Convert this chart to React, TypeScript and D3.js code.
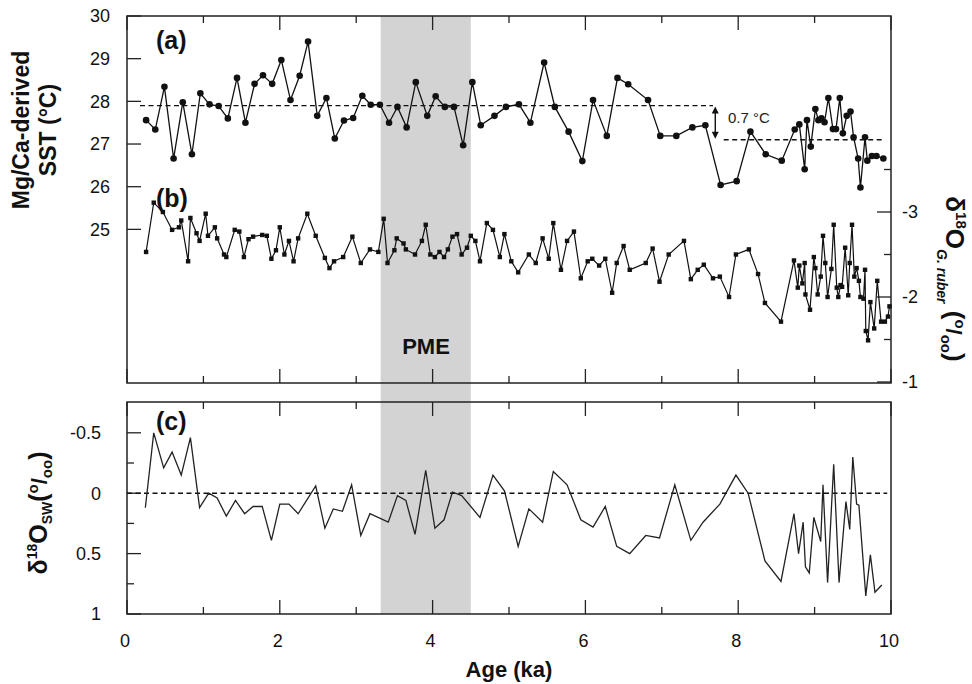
import React from "react";
import * as d3 from "d3";

// (a) Mg/Ca-derived SST
const ageA = [0.25, 0.37, 0.49, 0.61, 0.73, 0.85, 0.96, 1.08, 1.2, 1.32, 1.44, 1.55, 1.67, 1.78, 1.9, 2.02, 2.14, 2.26, 2.37, 2.49, 2.61, 2.72, 2.84, 2.96, 3.08, 3.19, 3.31, 3.43, 3.54, 3.66, 3.78, 3.93, 4.04, 4.16, 4.28, 4.4, 4.52, 4.63, 4.81, 4.96, 5.13, 5.28, 5.46, 5.6, 5.78, 5.96, 6.1, 6.28, 6.42, 6.56, 6.82, 6.98, 7.19, 7.4, 7.57, 7.77, 7.98, 8.16, 8.36, 8.57, 8.74, 8.8, 8.87, 8.9, 8.95, 9.01, 9.05, 9.09, 9.13, 9.18, 9.24, 9.28, 9.33, 9.37, 9.42, 9.47, 9.51, 9.57, 9.6, 9.66, 9.69, 9.75, 9.81, 9.9];
const sstA = [27.56, 27.34, 28.34, 26.66, 27.98, 26.76, 28.19, 27.93, 27.89, 27.6, 28.55, 27.5, 28.41, 28.61, 28.41, 28.97, 28.03, 28.6, 29.4, 27.66, 28.08, 27.13, 27.55, 27.61, 28.13, 27.92, 27.92, 27.5, 27.87, 27.39, 28.45, 27.66, 28.12, 27.87, 27.87, 26.97, 28.45, 27.44, 27.66, 27.87, 27.93, 27.5, 28.91, 27.87, 27.29, 26.6, 28.03, 27.19, 28.55, 28.4, 28.03, 27.19, 27.19, 27.39, 27.44, 26.04, 26.13, 27.29, 26.76, 26.61, 27.34, 27.46, 26.41, 27.56, 26.94, 27.82, 27.56, 27.6, 27.51, 28.08, 27.35, 27.35, 28.08, 27.25, 27.66, 27.76, 27.16, 26.66, 25.98, 27.16, 26.61, 26.72, 26.72, 26.66];

// (b) d18O G. ruber
const ageB = [0.25, 0.35, 0.47, 0.59, 0.68, 0.71, 0.8, 0.83, 0.91, 0.95, 1.03, 1.06, 1.15, 1.18, 1.27, 1.3, 1.41, 1.47, 1.53, 1.59, 1.65, 1.77, 1.83, 1.89, 1.95, 2.0, 2.06, 2.12, 2.18, 2.24, 2.36, 2.47, 2.59, 2.65, 2.71, 2.83, 2.95, 3.06, 3.18, 3.29, 3.36, 3.41, 3.5, 3.53, 3.62, 3.65, 3.77, 3.86, 3.91, 3.97, 4.03, 4.09, 4.15, 4.2, 4.26, 4.32, 4.38, 4.45, 4.5, 4.56, 4.62, 4.71, 4.79, 4.88, 4.94, 5.03, 5.12, 5.26, 5.35, 5.44, 5.52, 5.58, 5.68, 5.76, 5.85, 5.94, 6.03, 6.09, 6.18, 6.26, 6.35, 6.41, 6.5, 6.58, 6.79, 6.88, 6.97, 7.09, 7.29, 7.38, 7.47, 7.55, 7.67, 7.76, 7.88, 7.97, 8.14, 8.26, 8.35, 8.56, 8.73, 8.78, 8.8, 8.84, 8.87, 8.88, 8.94, 8.99, 9.01, 9.04, 9.08, 9.11, 9.14, 9.17, 9.22, 9.25, 9.29, 9.31, 9.34, 9.36, 9.4, 9.44, 9.46, 9.49, 9.52, 9.55, 9.58, 9.6, 9.64, 9.66, 9.67, 9.7, 9.73, 9.78, 9.82, 9.87, 9.92, 9.96, 9.98];
const d18oB = [-2.53, -3.11, -3.0, -2.79, -2.82, -2.9, -2.42, -2.93, -2.75, -2.66, -2.98, -2.72, -2.82, -2.69, -2.5, -2.47, -2.79, -2.77, -2.47, -2.68, -2.71, -2.73, -2.72, -2.45, -2.55, -2.82, -2.5, -2.66, -2.42, -2.69, -2.98, -2.72, -2.46, -2.34, -2.42, -2.47, -2.71, -2.4, -2.56, -2.53, -2.92, -2.4, -2.55, -2.69, -2.63, -2.56, -2.5, -2.66, -2.85, -2.5, -2.47, -2.53, -2.47, -2.56, -2.71, -2.74, -2.5, -2.58, -2.72, -2.66, -2.42, -2.87, -2.79, -2.47, -2.74, -2.42, -2.29, -2.5, -2.4, -2.69, -2.45, -2.87, -2.32, -2.66, -2.77, -2.22, -2.42, -2.45, -2.37, -2.45, -2.05, -2.4, -2.6, -2.32, -2.4, -2.57, -2.18, -2.5, -2.66, -2.21, -2.32, -2.38, -2.22, -2.24, -2.0, -2.5, -2.56, -2.27, -1.93, -1.71, -2.43, -2.11, -2.37, -2.16, -2.4, -2.03, -1.85, -2.47, -2.34, -2.03, -2.24, -2.72, -2.4, -2.0, -2.33, -2.85, -2.11, -2.0, -2.14, -2.12, -2.58, -2.02, -2.4, -2.85, -2.24, -2.34, -2.19, -2.0, -1.98, -2.32, -1.6, -1.49, -1.94, -1.63, -2.19, -1.71, -1.71, -1.77, -1.89];

// (c) d18O seawater
const ageC = [0.24, 0.35, 0.48, 0.59, 0.71, 0.83, 0.95, 1.07, 1.18, 1.3, 1.42, 1.54, 1.65, 1.77, 1.89, 2.0, 2.12, 2.24, 2.47, 2.59, 2.7, 2.82, 2.94, 3.06, 3.18, 3.42, 3.54, 3.65, 3.77, 3.91, 4.03, 4.15, 4.26, 4.38, 4.62, 4.79, 4.94, 5.12, 5.26, 5.44, 5.58, 5.76, 5.94, 6.1, 6.26, 6.41, 6.58, 6.79, 6.97, 7.17, 7.38, 7.54, 7.76, 7.97, 8.13, 8.35, 8.56, 8.73, 8.79, 8.85, 8.88, 8.93, 8.99, 9.08, 9.11, 9.17, 9.25, 9.32, 9.41, 9.46, 9.5, 9.55, 9.58, 9.67, 9.73, 9.79, 9.88];
const swC = [0.12, -0.5, -0.21, -0.34, -0.15, -0.46, 0.12, 0.0, 0.04, 0.19, 0.06, 0.17, 0.11, 0.11, 0.39, 0.09, 0.09, 0.17, -0.06, 0.29, 0.13, 0.15, -0.07, 0.35, 0.17, 0.24, 0.02, 0.06, 0.34, -0.19, 0.29, 0.22, -0.01, 0.02, 0.2, -0.15, -0.02, 0.44, 0.13, 0.24, -0.18, -0.07, 0.22, 0.28, 0.11, 0.44, 0.5, 0.35, 0.37, -0.07, 0.39, 0.24, 0.09, -0.15, 0.0, 0.56, 0.73, 0.17, 0.5, 0.24, 0.61, 0.66, 0.2, 0.4, -0.07, 0.74, -0.24, 0.74, 0.07, 0.3, -0.3, 0.09, 0.1, 0.85, 0.51, 0.82, 0.76];

// mean SST levels and PME band
const meanEarly = { from: 0.17, to: 7.67, value: 27.9 };
const meanLate = { from: 7.81, to: 9.88, value: 27.1 };
const pme = [3.32, 4.5];

const xMajor = [0, 2, 4, 6, 8, 10];
const xMinor = [1, 3, 5, 7, 9];
const sstTicks = [25, 26, 27, 28, 29, 30];
const rubMajor = [-3, -2, -1];
const rubMinor = [-3.5, -2.5, -1.5];
const swMajor = [-0.5, 0, 0.5, 1];
const swMinor = [-0.25, 0.25, 0.75];

const FONT = "'Liberation Sans', Arial, Helvetica, sans-serif";
const INK = "#222";

export default function App() {
  const L = 127, R = 891;
  const T0 = 16, T1 = 383, B0 = 402, B1 = 614;

  const x = d3.scaleLinear().domain([0, 10]).range([L, R]);
  const ySst = d3.scaleLinear().domain([21.4, 30]).range([T1, T0]);
  const yRub = d3.scaleLinear().domain([-1, -5.306]).range([382, T0]);
  const ySw = d3.scaleLinear().domain([-0.755, 1]).range([B0, B1]);

  const lineA = d3.line<number>().x((_, i) => x(ageA[i])).y(d => ySst(d));
  const lineB = d3.line<number>().x((_, i) => x(ageB[i])).y(d => yRub(d));
  const lineC = d3.line<number>().x((_, i) => x(ageC[i])).y(d => ySw(d));

  const xTicks = (top: number, bottom: number) => (
    <g stroke={INK} strokeWidth={1.3}>
      {xMajor.map(t => (
        <g key={"M" + t}>
          <line x1={x(t)} x2={x(t)} y1={top} y2={top + 14} />
          <line x1={x(t)} x2={x(t)} y1={bottom} y2={bottom - 14} />
        </g>
      ))}
      {xMinor.map(t => (
        <g key={"m" + t}>
          <line x1={x(t)} x2={x(t)} y1={top} y2={top + 7} />
          <line x1={x(t)} x2={x(t)} y1={bottom} y2={bottom - 7} />
        </g>
      ))}
    </g>
  );

  const arrowX = x(7.7);
  const a1 = ySst(meanEarly.value) + 1;
  const a2 = ySst(meanLate.value) - 1;

  return (
    <svg width={972} height={684} style={{ position: "absolute", left: 0, top: 0, background: "#fff" }} fontFamily={FONT}>
      <rect x={x(pme[0])} y={T0} width={x(pme[1]) - x(pme[0])} height={B1 - T0} fill="#d3d3d3" />

      {/* top panel frame and ticks */}
      <rect x={L} y={T0} width={R - L} height={T1 - T0} fill="none" stroke={INK} strokeWidth={1.5} />
      {xTicks(T0, T1)}
      <g stroke={INK} strokeWidth={1.3}>
        {sstTicks.map(t => <line key={t} x1={L} x2={L + 14} y1={ySst(t)} y2={ySst(t)} />)}
        {rubMajor.map(t => <line key={t} x1={R} x2={R - 14} y1={yRub(t)} y2={yRub(t)} />)}
        {rubMinor.map(t => <line key={t} x1={R} x2={R - 7} y1={yRub(t)} y2={yRub(t)} />)}
      </g>
      <g fontSize={18} fill="#111">
        {sstTicks.map(t => <text key={t} x={110} y={ySst(t)} dy="0.35em" textAnchor="end">{t}</text>)}
        {rubMajor.map(t => <text key={t} x={902} y={yRub(t)} dy="0.35em">{t}</text>)}
      </g>

      {/* mean lines */}
      <g stroke="#111" strokeWidth={1.4} strokeDasharray="5,3.5">
        <line x1={x(meanEarly.from)} x2={x(meanEarly.to)} y1={ySst(meanEarly.value)} y2={ySst(meanEarly.value)} />
        <line x1={x(meanLate.from)} x2={x(meanLate.to)} y1={ySst(meanLate.value)} y2={ySst(meanLate.value)} />
      </g>
      <g stroke="#111" strokeWidth={1.4} fill="#111">
        <line x1={arrowX} x2={arrowX} y1={a1 + 5} y2={a2 - 5} />
        <path d={`M${arrowX},${a1} l-3.5,7 h7 z`} stroke="none" />
        <path d={`M${arrowX},${a2} l-3.5,-7 h7 z`} stroke="none" />
      </g>
      <text x={728} y={123} fontSize={15} fill="#222">0.7 °C</text>

      {/* series a */}
      <path d={lineA(sstA) ?? ""} fill="none" stroke="#111" strokeWidth={1.3} />
      {sstA.map((v, i) => <circle key={i} cx={x(ageA[i])} cy={ySst(v)} r={3.3} fill="#111" />)}

      {/* series b */}
      <path d={lineB(d18oB) ?? ""} fill="none" stroke="#111" strokeWidth={1.2} />
      {d18oB.map((v, i) => <rect key={i} x={x(ageB[i]) - 2.2} y={yRub(v) - 2.2} width={4.4} height={4.4} fill="#111" />)}

      {/* bottom panel */}
      <rect x={L} y={B0} width={R - L} height={B1 - B0} fill="none" stroke={INK} strokeWidth={1.5} />
      {xTicks(B0, B1)}
      <g stroke={INK} strokeWidth={1.3}>
        {swMajor.map(t => <line key={t} x1={L} x2={L + 14} y1={ySw(t)} y2={ySw(t)} />)}
        {swMinor.map(t => <line key={t} x1={L} x2={L + 7} y1={ySw(t)} y2={ySw(t)} />)}
      </g>
      <g fontSize={18} fill="#111">
        {swMajor.map(t => <text key={t} x={101} y={ySw(t)} dy="0.35em" textAnchor="end">{t}</text>)}
        {xMajor.map(t => <text key={t} x={x(t) - 2} y={647} textAnchor="middle">{t}</text>)}
      </g>
      <line x1={x(0)} x2={x(9.95)} y1={ySw(0)} y2={ySw(0)} stroke="#111" strokeWidth={1.4} strokeDasharray="5,3.5" />
      <path d={lineC(swC) ?? ""} fill="none" stroke="#222" strokeWidth={1.3} />

      {/* labels */}
      <g fontWeight="bold" fontSize={25} fill="#111">
        <text x={156} y={49}>(a)</text>
        <text x={156} y={207}>(b)</text>
        <text x={156} y={430}>(c)</text>
      </g>
      <g fontWeight="bold" fontSize={22} fill="#111">
        <text x={426} y={354} textAnchor="middle">PME</text>
        <text x={509} y={677} textAnchor="middle">Age (ka)</text>
      </g>
      <g fontWeight="bold" fontSize={23} fill="#111" textAnchor="middle">
        <text transform="translate(29,130) rotate(-90)">Mg/Ca-derived</text>
        <text transform="translate(56,130) rotate(-90)">SST (°C)</text>
      </g>
      <text transform="translate(47,513) rotate(-90)" textAnchor="middle" fontWeight="bold" fill="#111" fontSize={25}>
        <tspan>δ</tspan>
        <tspan fontSize={14} dy={-10}>18</tspan>
        <tspan dy={10}>O</tspan>
        <tspan fontSize={14} dy={5}>SW</tspan>
        <tspan dy={-5}>(</tspan>
        <tspan fontSize={15} dy={-9}>o</tspan>
        <tspan fontSize={22} dy={9}>/</tspan>
        <tspan fontSize={15} dy={5}>oo</tspan>
        <tspan dy={-5}>)</tspan>
      </text>
      <text transform="translate(946,279) rotate(90)" textAnchor="middle" fontWeight="bold" fill="#111" fontSize={26}>
        <tspan>δ</tspan>
        <tspan fontSize={15} dy={-10}>18</tspan>
        <tspan dy={10}>O</tspan>
        <tspan fontSize={14} fontStyle="italic" dy={9}>G. ruber</tspan>
        <tspan dy={-9}> (</tspan>
        <tspan fontSize={15} dy={-9}>o</tspan>
        <tspan fontSize={22} dy={9}>/</tspan>
        <tspan fontSize={15} dy={5}>oo</tspan>
        <tspan dy={-5}>)</tspan>
      </text>
    </svg>
  );
}
